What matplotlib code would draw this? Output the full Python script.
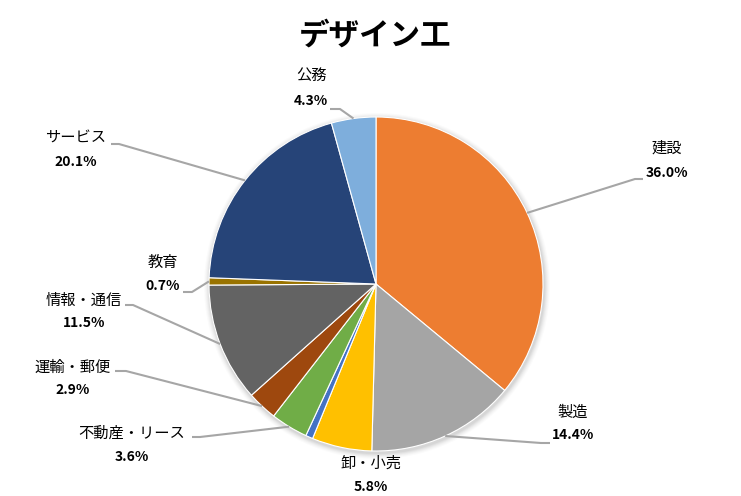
import matplotlib
matplotlib.use("Agg")
import matplotlib.pyplot as plt
import numpy as np

plt.rcParams['font.family'] = ['Noto Sans CJK JP', 'DejaVu Sans']

title = "デザイン工"
categories = ["建設", "製造", "卸・小売", "金融・保険", "不動産・リース",
              "運輸・郵便", "情報・通信", "教育", "サービス", "公務"]
values = [36.0, 14.4, 5.8, 0.7, 3.6, 2.9, 11.5, 0.7, 20.1, 4.3]
show_label = [True, True, True, False, True, True, True, True, True, True]
colors = ["#ED7D31", "#A5A5A5", "#FFC000", "#4472C4", "#70AD47",
          "#9E480E", "#636363", "#997300", "#264478", "#7EAEDC"]

W, H = 741, 496
# label layout in pixel coords: (text center x, name y, pct y, leader end x, leader end y, elbow x)
label_layout = {
    "建設": (667, 148, 173, 643, 179, 635),
    "製造": (573, 412, 435, 550, 443, 541),
    "卸・小売": (371, 463, 487, None, None, None),
    "不動産・リース": (132, 433, 457, 192, 437, 200),
    "運輸・郵便": (73, 367, 390, 115, 371, 126),
    "情報・通信": (84, 300, 323, 125, 305, 133),
    "教育": (163, 262, 286, 183, 292, 192),
    "サービス": (76, 138, 162, 111, 144, 119),
    "公務": (311, 75, 101, 330, 109, 340),
}

fig = plt.figure(figsize=(W / 100, H / 100), dpi=100)
ax = fig.add_axes([0, 0, 1, 1])
ax.set_xlim(0, W)
ax.set_ylim(0, H)
ax.set_aspect('equal')
ax.axis('off')

cx, cy, r = 376, H - 284, 167

# soft shadow
for k, a in zip(range(6, 0, -1), [0.015, 0.02, 0.025, 0.03, 0.035, 0.04]):
    ax.add_patch(plt.Circle((cx + 1, cy - 2), r + k, color='black', alpha=a, lw=0, zorder=0))

wedges, _ = ax.pie(values, colors=colors, startangle=90, counterclock=False,
                   center=(cx, cy), radius=r, frame=True,
                   wedgeprops=dict(edgecolor='white', linewidth=0.8))
ax.set_xlim(0, W)
ax.set_ylim(0, H)
ax.axis('off')

line_color = "#A6A6A6"
for w, cat, v, show in zip(wedges, categories, values, show_label):
    if not show:
        continue
    tx, ny, py, ex, ey, bx = label_layout[cat]
    ax.text(tx, H - ny, cat, ha='center', va='center', fontsize=11, color='black')
    ax.text(tx, H - py, f"{v:.1f}%", ha='center', va='center', fontsize=10,
            fontweight='bold', color='black')
    if ex is not None:
        mid = np.deg2rad((w.theta1 + w.theta2) / 2)
        px = cx + r * np.cos(mid)
        pyy = cy + r * np.sin(mid)
        ax.plot([px, bx, ex], [pyy, H - ey, H - ey], color=line_color, lw=1.5,
                zorder=5, solid_capstyle='butt')

ax.text(375, H - 36, title, ha='center', va='center', fontsize=22, fontweight='bold')

fig.savefig("out.png", dpi=100)
